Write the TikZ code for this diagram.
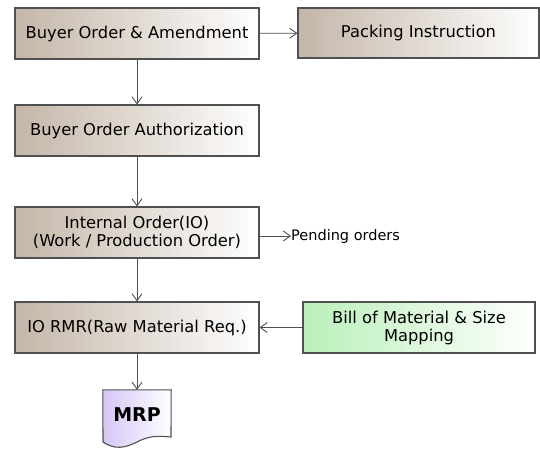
\documentclass[tikz,border=0pt]{standalone}
\usepackage{fontspec}
\setmainfont{DejaVu Sans}
\usetikzlibrary{arrows.meta,backgrounds}

\definecolor{boxtan}{RGB}{196,182,168}
\definecolor{boxgreen}{RGB}{186,240,186}
\definecolor{doclilac}{RGB}{214,198,246}
\definecolor{edgegray}{RGB}{80,80,80}

\begin{document}
\begin{tikzpicture}[x=1pt,y=-1pt,
    stepbox/.style={draw=edgegray,line width=1.1pt,left color=boxtan,right color=white,
      minimum width=244pt,minimum height=51pt,inner sep=2pt,align=center,font=\fontsize{16.3}{18}\selectfont},
    flow/.style={draw=edgegray,line width=0.9pt,-{Straight Barb[length=7pt,width=10pt]}}]
  \useasboundingbox (0,0) rectangle (540,448);
  % main column
  \node[stepbox] (order) at (137,33.5) {Buyer Order \& Amendment};
  \node[stepbox] (auth) at (137,130.5) {Buyer Order Authorization};
  \node[stepbox] (io) at (137,232.5) {Internal Order(IO)\\(Work / Production Order)};
  \node[stepbox] (rmr) at (137,327.5) {IO RMR(Raw Material Req.)};
  % side boxes
  \node[stepbox,minimum width=241pt,minimum height=50pt] (packing) at (418.5,33) {Packing Instruction};
  \node[stepbox,minimum width=232pt,left color=boxgreen] (bom) at (419,327.5) {Bill of Material \& Size\\Mapping};
  \node[anchor=west,inner sep=0pt,font=\fontsize{14.5}{16}\selectfont] (pending) at (291,236) {Pending orders};
  % document shape with wavy bottom
  \node[minimum width=68pt,minimum height=50pt,inner sep=0pt,font=\bfseries\fontsize{19}{21}\selectfont] (mrp) at (137,415) {MRP};
  \begin{scope}[on background layer]
    \path[draw=edgegray,line width=1.1pt,left color=doclilac,right color=white]
      (mrp.north west) -- (mrp.north east) -- (171,437)
      .. controls (160,436) and (150,435) .. (137,442)
      .. controls (125,448) and (115,450) .. (103,442) -- cycle;
  \end{scope}
  % connectors
  \foreach \a/\b in {order/auth,auth/io,io/rmr,rmr/mrp}
    \draw[flow] (\a) -- (\b);
  \draw[flow] (order) -- (packing);
  \draw[flow] (bom) -- (rmr);
  \draw[flow] (io.east |- pending.west) -- (pending.west);
\end{tikzpicture}
\end{document}
